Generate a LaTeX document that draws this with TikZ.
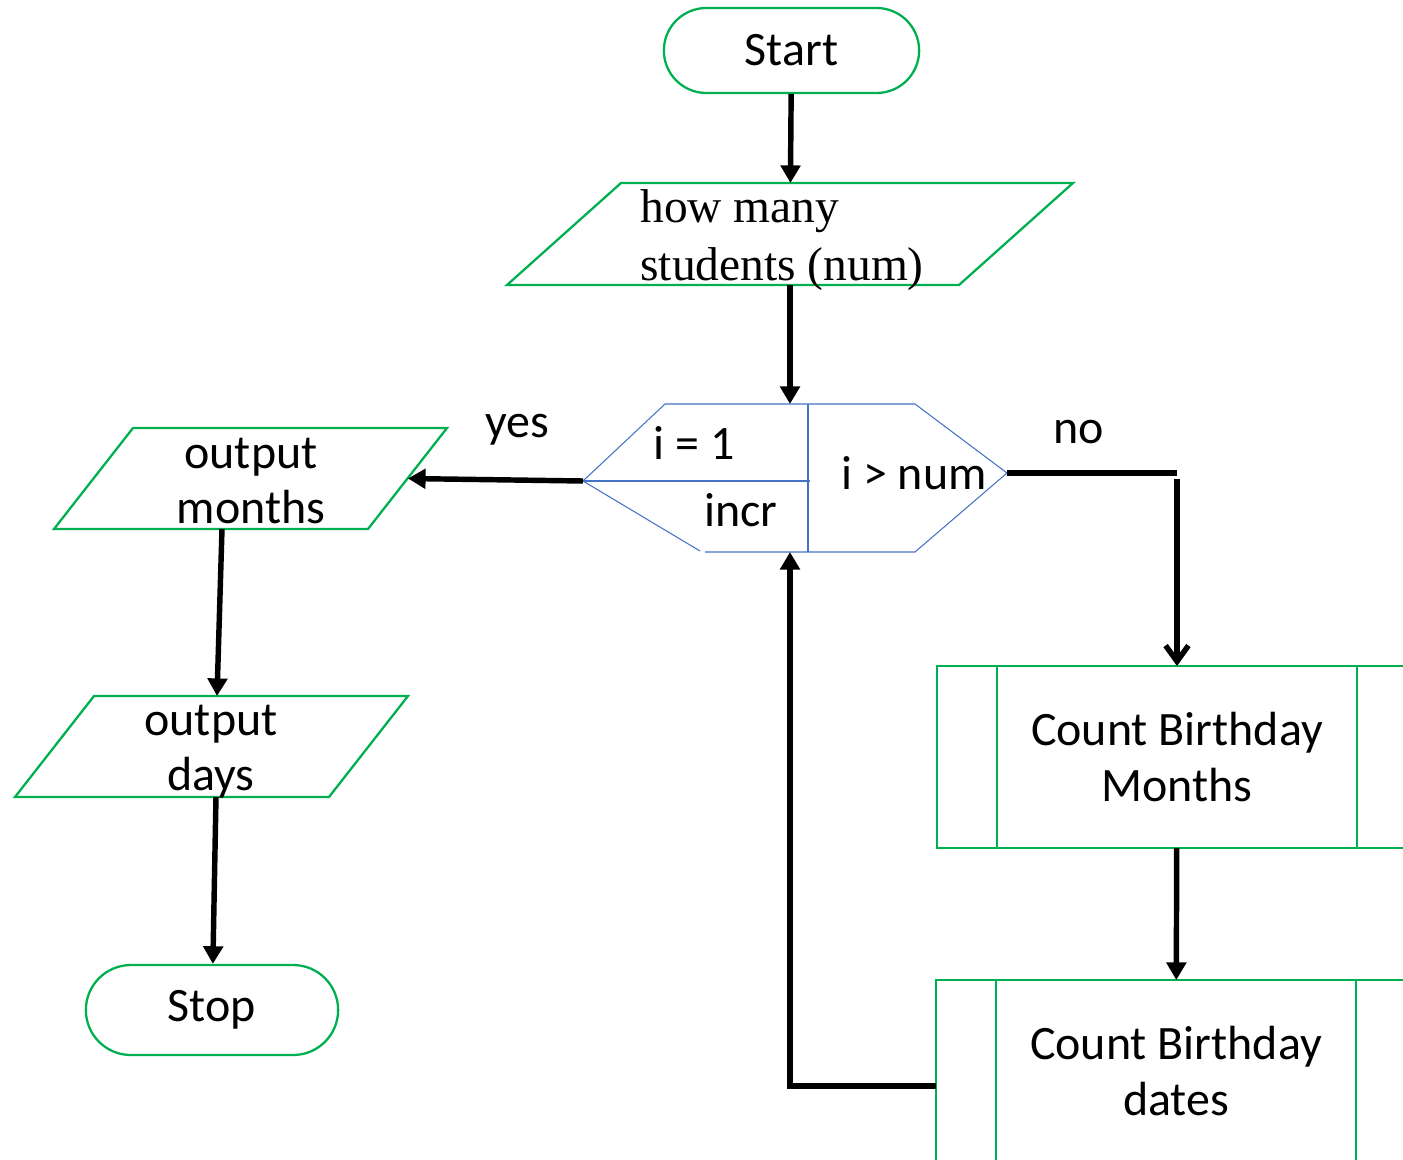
\documentclass[tikz,border=0pt]{standalone}
\usepackage{fontspec}
\setmainfont{Carlito}
\newfontfamily\serifin{Liberation Serif}
\usetikzlibrary{positioning,arrows.meta,shapes.misc}
\definecolor{flowgreen}{RGB}{0,176,80}
\definecolor{flowblue}{RGB}{68,114,196}

\begin{document}
\begin{tikzpicture}[
  txt/.style={font=\fontsize{27.3}{31.5}\selectfont, align=center},
  term/.style={rounded rectangle, draw=flowgreen, line width=1.3pt, txt},
  io/.style={rectangle, inner sep=0pt, outer sep=0pt,
    append after command={\pgfextra{\draw[flowgreen, line width=1.3pt]
      (\tikzlastnode.south west) -- ([xshift=#1]\tikzlastnode.north west) -- (\tikzlastnode.north east)
      -- ([xshift=-#1]\tikzlastnode.south east) -- cycle;}}},
  proc/.style={rectangle, draw=flowgreen, line width=1.3pt, outer sep=0pt, minimum width=9.6cm, minimum height=3.64cm, txt,
    path picture={\draw[flowgreen, line width=1.3pt]
      ([xshift=1.2cm]path picture bounding box.north west) -- ([xshift=1.2cm]path picture bounding box.south west)
      ([xshift=-1.2cm]path picture bounding box.north east) -- ([xshift=-1.2cm]path picture bounding box.south east);}},
  line/.style={line width=3.1pt},
  arr/.style={line, -{Triangle[length=10pt,width=11pt]}},
  arrv/.style={line, -{Straight Barb[length=9pt,width=13pt]}}
]
  \useasboundingbox (0,0) rectangle (28.06,-23.18);

  % terminals and input/output boxes
  \node[term, minimum width=5.34cm, minimum height=1.7cm] (start) at (15.83,-1.01) {Start};
  \node[io=2.28cm, minimum width=11.32cm, minimum height=2.04cm] (in) at (15.80,-4.68) {};
  \node[anchor=base west, align=left, font=\serifin\fontsize{27}{32.9}\selectfont, inner sep=0pt] (intxt) at (12.8,-5.6) {how many\\students (num)};

  \node[io=1.58cm, minimum width=7.86cm, minimum height=2.02cm] (mo) at (5.01,-9.57) {};
  \node[txt] (motxt) at (5.02,-9.62) {output\\months};
  \node[io=1.58cm, minimum width=7.86cm, minimum height=2.02cm] (do) at (4.23,-14.93) {};
  \node[txt] (dotxt) at (4.22,-15.04) {output\\days};
  \node[term, minimum width=5.28cm, minimum height=1.8cm] (stop) at (4.24,-20.2) {Stop};

  % loop block
  \coordinate (hexL) at (11.66,-9.62);
  \coordinate (hexT) at (15.80,-8.08);
  \coordinate (hexR) at (20.14,-9.46);
  \coordinate (hexB) at (15.80,-11.04);
  \draw[flowblue, line width=0.6pt] (14.00,-11.02) -- (hexL) -- (13.30,-8.08) -- (18.30,-8.08) -- (hexR)
    -- (18.30,-11.04) -- (14.10,-11.04);
  \draw[flowblue, line width=0.6pt] (16.16,-8.08) -- (16.16,-11.04) (hexL) -- (16.20,-9.62);
  \node[txt] (init) at (13.88,-8.86) {i = 1};
  \node[txt] (incr) at (14.82,-10.20) {incr};
  \node[txt] (cond) at (18.28,-9.46) {i > num};

  % subprocesses
  \node[proc] (cbm) at (23.54,-15.14) {Count Birthday\\Months};
  \node[proc] (cbd) at (23.52,-21.42) {Count Birthday\\dates};

  \node[txt] (yes) at (10.34,-8.6) {yes};
  \node[txt] (no) at (21.58,-8.64) {no};

  \draw[arr] (start) -- (in);
  \draw[arr] (in) -- (hexT);
  \draw[arr] (hexL) -- ([xshift=-0.78cm]mo.east);
  \draw[line] (hexR) -- (hexR -| cbm.north);
  \draw[arrv] ([yshift=-0.12cm]hexR -| cbm.north) -- (cbm.north);
  \draw[arr] (cbm) -- (cbd);
  \draw[arr] ([yshift=-0.3cm]cbd.west) -| (hexB);
  \draw[arr] ([xshift=-0.57cm]mo.south) -- ([xshift=0.11cm]do.north);
  \draw[arr] ([xshift=0.09cm]do.south) -- (stop);
\end{tikzpicture}
\end{document}
